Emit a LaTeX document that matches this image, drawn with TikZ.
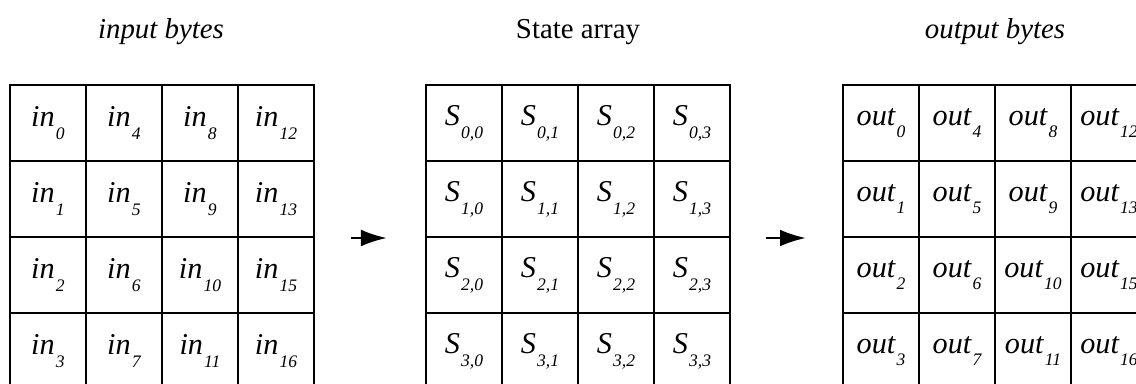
\documentclass[tikz,border=0pt]{standalone}
\usepackage{fontspec}
\setmainfont{Liberation Serif}
\usetikzlibrary{arrows.meta}

% lowered index of a cell label
\newcommand{\lowidx}[1]{\kern0.04em\raisebox{-0.42em}{\fontsize{12.5}{12.5}\selectfont #1}}

\begin{document}
\begin{tikzpicture}[
  x=0.025cm,y=-0.025cm,
  cell/.style={draw,line width=1.4pt,minimum width=1.9cm,minimum height=1.9cm,inner sep=0pt,font=\fontsize{21.5}{21.5}\selectfont\itshape},
  head/.style={anchor=base,font=\fontsize{20.5}{21}\selectfont},
  flow/.style={line width=1.8pt,-{Latex[length=6.5mm,width=4.2mm]}}
]
  \clip (0,0) rectangle (1136,383);

  % titles
  \node[head,font=\fontsize{20.5}{21}\selectfont\itshape] (inhead) at (161,38) {input bytes};
  \node[head] (sthead) at (578,38) {State array};
  \node[head,font=\fontsize{20.5}{21}\selectfont\itshape] (outhead) at (995,38) {output bytes};

  % input bytes
  \foreach \c/\labs in {0/{0,1,2,3},1/{4,5,6,7},2/{8,9,10,11},3/{12,13,15,16}}
    \foreach \v [count=\r from 0] in \labs
      \node[cell] (in-\r-\c) at (48+76*\c,123+76*\r) {in\lowidx{\v}};

  % state array
  \foreach \c in {0,...,3}
    \foreach \r in {0,...,3}
      \node[cell] (st-\r-\c) at (464+76*\c,123+76*\r) {S\lowidx{\r,\c}};

  % output bytes
  \foreach \c/\labs in {0/{0,1,2,3},1/{4,5,6,7},2/{8,9,10,11},3/{12,13,15,16}}
    \foreach \v [count=\r from 0] in \labs
      \node[cell] (out-\r-\c) at (881+76*\c,123+76*\r) {out\lowidx{\v}};

  \draw[flow] ([xshift=0.9cm]in-1-3.south east) -- ([xshift=-0.95cm]st-1-0.south west);
  \draw[flow] ([xshift=0.87cm]st-1-3.south east) -- ([xshift=-0.9cm]out-1-0.south west);
\end{tikzpicture}
\end{document}
